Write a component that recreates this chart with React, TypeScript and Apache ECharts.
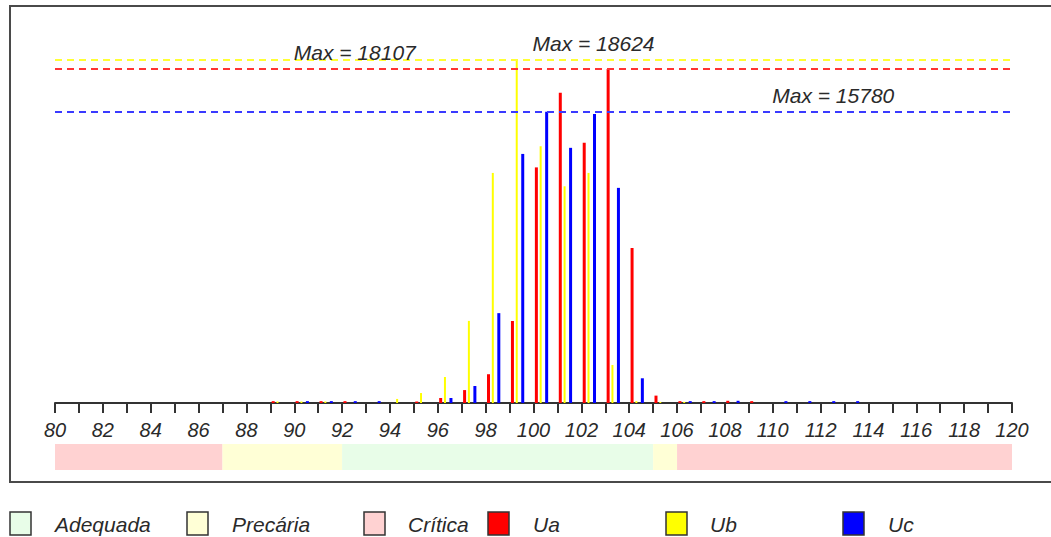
import React, { useEffect, useRef } from "react";
import * as echarts from "echarts";

// ---- data ----
const bins = [89, 90, 91, 92, 93, 94, 95, 96, 97, 98, 99, 100, 101, 102, 103, 104, 105, 106, 107, 108, 109, 110, 111, 112, 113];
const ua = [100, 100, 100, 100, 0, 0, 80, 270, 700, 1560, 4450, 12770, 16810, 14100, 18107, 8400, 400, 100, 100, 120, 100, 0, 0, 0, 0];
const ub = [80, 80, 80, 0, 0, 220, 540, 1410, 4450, 12470, 18624, 13915, 11745, 12470, 2060, 100, 60, 60, 0, 0, 0, 0, 0, 0, 0];
const uc = [0, 100, 100, 100, 100, 0, 0, 270, 920, 4870, 13500, 15780, 13830, 15670, 11660, 1340, 0, 100, 100, 120, 0, 100, 100, 100, 100];

const seriesNames = ["Ua", "Ub", "Uc"];
const zoneNames = ["Adequada", "Precária", "Crítica"];
const zoneFrom = [80, 87, 92, 105, 106];
const zoneTo = [87, 92, 105, 106, 120];
const zoneKind = [2, 1, 0, 1, 2];

const xMin = 80;
const xMax = 120;

// ---- styles ----
const FONT = "'Liberation Sans', Arial, sans-serif";
const barColors = ["#ff0000", "#ffff00", "#0000ff"];
const lineColors = ["#ff3333", "#ffff33", "#3a3aff"];
const zoneColors = ["#e8fde8", "#ffffd6", "#ffd2d2"];
const barOffsets = [0.12, 0.32, 0.55];
const barWidths = [3, 2, 3];
const maxLabelX = [90, 100, 110];

export default function App() {
  const ref = useRef<HTMLDivElement>(null);

  useEffect(() => {
    document.body.style.margin = "0";
    if (!ref.current) return;
    const chart = echarts.init(ref.current, undefined, { renderer: "svg" });
    const values = [ua, ub, uc];

    const barSeries = values.map((vals, s) => {
      const max = Math.max(...vals);
      return {
        name: seriesNames[s],
        type: "bar",
        xAxisIndex: 0,
        yAxisIndex: 0,
        barWidth: barWidths[s],
        barGap: "-100%",
        itemStyle: { color: barColors[s] },
        data: bins
          .map((b, i) => [b + barOffsets[s], vals[i]])
          .filter((d) => d[1] > 0),
        markLine: {
          silent: true,
          symbol: "none",
          label: { show: false },
          lineStyle: { type: [7, 5], width: 2, color: lineColors[s] },
          data: [{ yAxis: max }],
        },
        markPoint: {
          silent: true,
          symbol: "rect",
          symbolSize: 1,
          itemStyle: { color: "rgba(0,0,0,0)" },
          label: {
            show: true,
            position: [0, -26],
            formatter: "Max = " + max,
            fontFamily: FONT,
            fontStyle: "italic",
            fontSize: 21,
            color: "#2a2a2a",
          },
          data: [{ coord: [maxLabelX[s], max] }],
        },
      };
    });

    const zoneSeries = {
      type: "custom",
      xAxisIndex: 1,
      yAxisIndex: 1,
      silent: true,
      data: zoneFrom.map((f, i) => [f, zoneTo[i], zoneKind[i]]),
      encode: { x: [0, 1] },
      renderItem: (params: any, api: any) => {
        const p0 = api.coord([api.value(0), 0]);
        const p1 = api.coord([api.value(1), 1]);
        return {
          type: "rect",
          shape: { x: p0[0], y: p1[1], width: p1[0] - p0[0], height: p0[1] - p1[1] },
          style: { fill: zoneColors[api.value(2)] },
        };
      },
    };

    const legendItems = [
      { label: zoneNames[0], fill: zoneColors[0], bx: 10, tx: 55 },
      { label: zoneNames[1], fill: zoneColors[1], bx: 187, tx: 232 },
      { label: zoneNames[2], fill: zoneColors[2], bx: 364, tx: 408 },
      { label: seriesNames[0], fill: barColors[0], bx: 488, tx: 533 },
      { label: seriesNames[1], fill: barColors[1], bx: 666, tx: 710 },
      { label: seriesNames[2], fill: barColors[2], bx: 843, tx: 888 },
    ];

    const graphic: any[] = [
      {
        type: "rect",
        silent: true,
        shape: { x: 10, y: 6, width: 1060, height: 476 },
        style: { fill: "none", stroke: "#4a4a4a", lineWidth: 2 },
      },
    ];
    legendItems.forEach((it) => {
      graphic.push({
        type: "rect",
        silent: true,
        shape: { x: it.bx, y: 512, width: 21, height: 23 },
        style: { fill: it.fill, stroke: "#333", lineWidth: 1.5 },
      });
      graphic.push({
        type: "text",
        silent: true,
        x: it.tx,
        y: 524,
        style: {
          text: it.label,
          fontFamily: FONT,
          fontStyle: "italic",
          fontSize: 21,
          fill: "#2a2a2a",
          verticalAlign: "middle",
          align: "left",
        },
      });
    });

    chart.setOption({
      animation: false,
      backgroundColor: "#ffffff",
      grid: [
        { left: 55, right: 39, top: 34, bottom: 134 },
        { left: 55, right: 39, top: 444, height: 26 },
      ],
      xAxis: [
        {
          type: "value",
          gridIndex: 0,
          min: xMin,
          max: xMax,
          interval: 1,
          splitLine: { show: false },
          axisLine: { show: true, onZero: false, lineStyle: { color: "#333", width: 2 } },
          axisTick: { show: true, length: 10, lineStyle: { color: "#333", width: 2 } },
          axisLabel: {
            margin: 17,
            fontFamily: FONT,
            fontStyle: "italic",
            fontSize: 20,
            color: "#2a2a2a",
            formatter: (v: number) => (v % 2 === 0 ? String(v) : ""),
          },
        },
        {
          type: "value",
          gridIndex: 1,
          min: xMin,
          max: xMax,
          show: false,
        },
      ],
      yAxis: [
        { type: "value", gridIndex: 0, min: 0, max: 20000, show: false, splitLine: { show: false } },
        { type: "value", gridIndex: 1, min: 0, max: 1, show: false, splitLine: { show: false } },
      ],
      graphic,
      series: [zoneSeries, ...barSeries],
    });

    return () => chart.dispose();
  }, []);

  return (
    <div
      ref={ref}
      style={{ position: "absolute", left: 0, top: 0, width: 1051, height: 537, background: "#fff" }}
    />
  );
}
